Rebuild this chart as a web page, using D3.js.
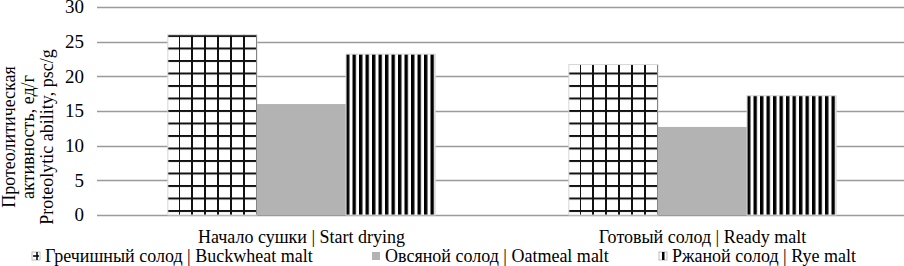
<!DOCTYPE html>
<html>
<head>
<meta charset="utf-8">
<script src="https://cdn.jsdelivr.net/npm/d3@7"></script>
</head>
<body style="margin:0">
<div id="chart"></div>
<script>
// Données
const categories = ["Начало сушки | Start drying", "Готовый солод | Ready malt"];
const series = ["Гречишный солод | Buckwheat malt", "Овсяной солод | Oatmeal malt", "Ржаной солод | Rye malt"];
const buckwheat = [26, 21.7];
const oatmeal = [16, 12.7];
const rye = [23.2, 17.2];
const yTicks = [0, 5, 10, 15, 20, 25, 30];
const yTitle = ["Протеолитическая", "активность, ед/г", "Proteolytic ability, psc/g"];

const values = [buckwheat, oatmeal, rye];
const fills = ["url(#grid)", "#b3b3b3", "url(#stripes)"];

const width = 904, height = 266;
const plotLeft = 97, plotTop = 7, plotBottom = 215;

const svg = d3.select("#chart").append("svg")
    .attr("width", width)
    .attr("height", height);

// taille du texte (police par défaut du navigateur, à empattements)
function txt(sel, size) {
    sel.style("font-size", size + "px");
}

// motifs des barres
const defs = svg.append("defs");
const grid = defs.append("pattern")
    .attr("id", "grid")
    .attr("patternUnits", "userSpaceOnUse")
    .attr("width", 13).attr("height", 12.5)
    .attr("x", 168).attr("y", 35);
grid.append("rect").attr("width", 13).attr("height", 12.5).attr("fill", "#fff");
grid.append("rect").attr("x", 0).attr("y", 0).attr("width", 2).attr("height", 12.5).attr("fill", "#111");
grid.append("rect").attr("x", 0).attr("y", 0).attr("width", 13).attr("height", 2).attr("fill", "#111");

const stripes = defs.append("pattern")
    .attr("id", "stripes")
    .attr("patternUnits", "userSpaceOnUse")
    .attr("width", 6.5).attr("height", 10)
    .attr("x", 349).attr("y", 0);
stripes.append("rect").attr("width", 6.5).attr("height", 10).attr("fill", "#fff");
stripes.append("rect").attr("width", 3.4).attr("height", 10).attr("fill", "#000");

// échelles
const y = d3.scaleLinear().domain([0, 30]).range([plotBottom, plotTop]);
const x0 = d3.scaleBand().domain(categories).range([101, 903]).padding(0);
const x1 = d3.scaleBand().domain(d3.range(series.length))
    .range([0, x0.bandwidth()]).paddingInner(0).paddingOuter(0.75);

// lignes de grille
svg.append("g").selectAll("line")
    .data(yTicks)
    .join("line")
    .attr("x1", plotLeft).attr("x2", width)
    .attr("y1", d => Math.round(y(d)) + 0.5)
    .attr("y2", d => Math.round(y(d)) + 0.5)
    .attr("stroke", "#9a9a9a")
    .attr("stroke-width", 1.3);

// étiquettes de l'axe Y
svg.append("g").selectAll("text")
    .data(yTicks)
    .join("text")
    .attr("x", 84)
    .attr("y", d => y(d))
    .attr("dy", "0.34em")
    .attr("text-anchor", "end")
    .call(txt, 19)
    .text(d => d);

// barres
const groups = svg.append("g").selectAll("g")
    .data(categories)
    .join("g")
    .attr("transform", d => `translate(${x0(d)},0)`);

groups.selectAll("rect")
    .data((c, i) => values.map((v, s) => ({ s: s, v: v[i] })))
    .join("rect")
    .attr("x", d => x1(d.s))
    .attr("width", x1.bandwidth())
    .attr("y", d => y(d.v))
    .attr("height", d => y(0) - y(d.v))
    .attr("fill", d => fills[d.s])
    .attr("stroke", d => d.s === 1 ? "none" : "#d6d6d6")
    .attr("stroke-width", 1);

// étiquettes des catégories
svg.append("g").selectAll("text")
    .data(categories)
    .join("text")
    .attr("x", d => x0(d) + x0.bandwidth() / 2)
    .attr("y", 243)
    .attr("text-anchor", "middle")
    .call(txt, 18)
    .text(d => d);

// titre de l'axe Y
const title = svg.append("text")
    .attr("transform", "translate(0,137) rotate(-90)")
    .attr("text-anchor", "middle")
    .call(txt, 18);
title.selectAll("tspan")
    .data(yTitle)
    .join("tspan")
    .attr("x", 0)
    .attr("y", (d, i) => 15 + i * 19)
    .text(d => d);

// légende
const legendX = [32, 372, 659];
const legend = svg.append("g").selectAll("g")
    .data(series)
    .join("g")
    .attr("transform", (d, i) => `translate(${legendX[i]},256)`);
legend.append("rect")
    .attr("x", 0).attr("y", -4)
    .attr("width", 8).attr("height", 8)
    .attr("fill", (d, i) => i === 1 ? "#b3b3b3" : "#fff")
    .attr("stroke", (d, i) => i === 1 ? "none" : "#bbb");
legend.filter((d, i) => i === 0).append("path")
    .attr("d", "M1,0H7M5,-4V4")
    .attr("stroke", "#000").attr("stroke-width", 1.5);
legend.filter((d, i) => i === 2).append("rect")
    .attr("x", 3).attr("y", -4).attr("width", 2.5).attr("height", 8)
    .attr("fill", "#000");
legend.append("text")
    .attr("x", 13)
    .attr("y", 6)
    .call(txt, 18)
    .text(d => d);
</script>
</body>
</html>
